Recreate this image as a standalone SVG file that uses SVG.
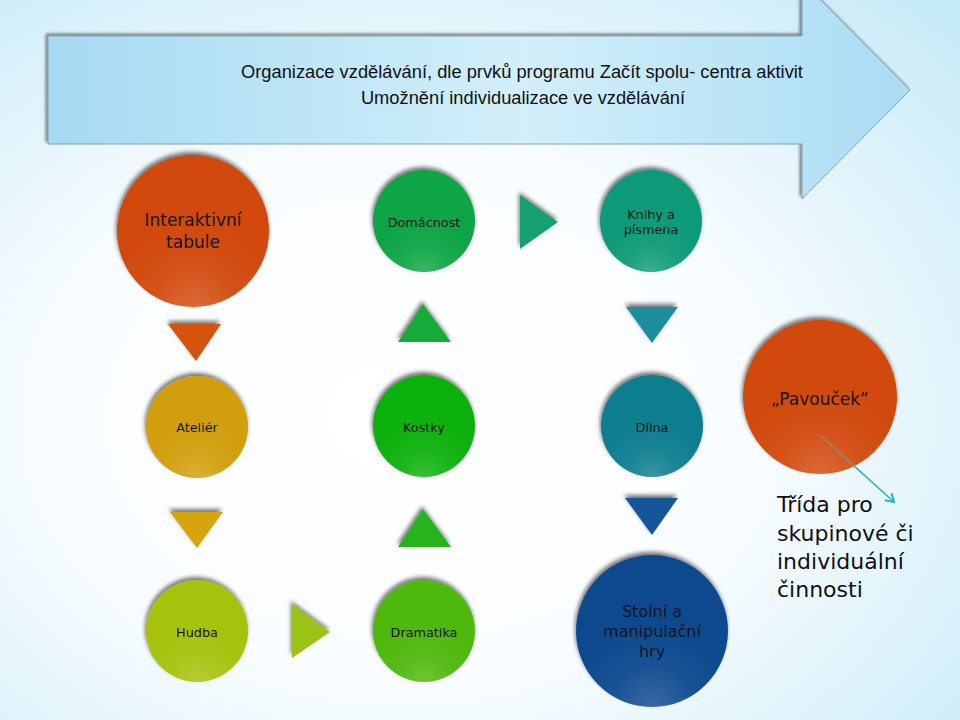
<svg xmlns="http://www.w3.org/2000/svg" width="960" height="720" viewBox="0 0 960 720">
<defs>
<radialGradient id="bg" cx="0.42" cy="0.58" r="0.8">
<stop offset="0" stop-color="#ffffff"/>
<stop offset="0.45" stop-color="#fafdff"/>
<stop offset="1" stop-color="#c6eaf7"/>
</radialGradient>
<linearGradient id="arrowFill" x1="0" y1="0" x2="1" y2="0">
<stop offset="0" stop-color="#a6daf2"/>
<stop offset="0.55" stop-color="#d2effa"/>
<stop offset="1" stop-color="#aadcf3"/>
</linearGradient>
<radialGradient id="hl" cx="0.5" cy="1" r="0.55">
<stop offset="0" stop-color="#ffffff" stop-opacity="0.18"/>
<stop offset="0.5" stop-color="#ffffff" stop-opacity="0.05"/>
<stop offset="1" stop-color="#ffffff" stop-opacity="0"/>
</radialGradient>
<filter id="sh" x="-20%" y="-20%" width="140%" height="140%">
<feGaussianBlur in="SourceAlpha" stdDeviation="2.2"/>
<feOffset dx="-1" dy="-3"/>
<feComponentTransfer><feFuncA type="linear" slope="0.55"/></feComponentTransfer>
<feMerge><feMergeNode/><feMergeNode in="SourceGraphic"/></feMerge>
</filter>
<filter id="ash" x="-5%" y="-10%" width="110%" height="120%">
<feGaussianBlur in="SourceAlpha" stdDeviation="1.5"/>
<feOffset dx="-2" dy="-2"/>
<feComponentTransfer><feFuncA type="linear" slope="0.5"/></feComponentTransfer>
<feMerge><feMergeNode/><feMergeNode in="SourceGraphic"/></feMerge>
</filter>
<marker id="open" viewBox="0 0 12 12" refX="10" refY="6" markerWidth="12" markerHeight="12" markerUnits="userSpaceOnUse" orient="auto">
<path d="M2,1 L10,6 L2,11" fill="none" stroke="#2bb3c9" stroke-width="2"/>
</marker>
<style>
.lbl{font-family:"DejaVu Sans","Noto Sans",sans-serif;fill:#151515;text-anchor:middle}
.sm{font-size:12.8px}
.lg{font-size:17px}
.hdr{font-family:"Liberation Sans",Arial,sans-serif;font-size:18.3px;fill:#111;text-anchor:middle}
.side{font-family:"DejaVu Sans","Noto Sans",sans-serif;font-size:22px;fill:#111}
.node{filter:url(#sh)}
.tri{filter:url(#sh)}
</style>
</defs>
<rect width="960" height="720" fill="url(#bg)"/>

<g id="header">
<polygon points="48,36 802,36 802,-19 910,90 802,199 802,144 48,144" fill="url(#arrowFill)" stroke="#7f929c" stroke-width="0.8" filter="url(#ash)"/>
<text class="hdr" x="522" y="78">Organizace vzdělávání, dle prvků programu Začít spolu- centra aktivit</text>
<text class="hdr" x="523" y="104">Umožnění individualizace ve vzdělávání</text>
</g>

<g id="interaktivni">
<circle class="node" cx="193" cy="231" r="76" fill="#d24a07"/>
<circle cx="193" cy="231" r="76" fill="url(#hl)"/>
<text class="lbl lg" x="193" y="226">Interaktivní</text>
<text class="lbl lg" x="193" y="248">tabule</text>
</g>

<g id="domacnost">
<circle class="node" cx="424" cy="221" r="51" fill="#07a544"/>
<circle cx="424" cy="221" r="51" fill="url(#hl)"/>
<text class="lbl sm" x="424" y="227">Domácnost</text>
</g>

<g id="knihy">
<circle class="node" cx="651" cy="221" r="51" fill="#0e9a78"/>
<circle cx="651" cy="221" r="51" fill="url(#hl)"/>
<text class="lbl sm" x="651" y="219">Knihy a</text>
<text class="lbl sm" x="651" y="234">písmena</text>
</g>

<g id="atelier">
<circle class="node" cx="197" cy="427" r="51" fill="#d19e08"/>
<circle cx="197" cy="427" r="51" fill="url(#hl)"/>
<text class="lbl sm" x="197" y="432">Ateliér</text>
</g>

<g id="kostky">
<circle class="node" cx="424" cy="426" r="51" fill="#0db10d"/>
<circle cx="424" cy="426" r="51" fill="url(#hl)"/>
<text class="lbl sm" x="424" y="432">Kostky</text>
</g>

<g id="dilna">
<circle class="node" cx="652" cy="426" r="51" fill="#117e90"/>
<circle cx="652" cy="426" r="51" fill="url(#hl)"/>
<text class="lbl sm" x="652" y="432">Dílna</text>
</g>

<g id="pavoucek">
<circle class="node" cx="820" cy="397" r="77" fill="#d24a07"/>
<circle cx="820" cy="397" r="77" fill="url(#hl)"/>
<text class="lbl lg" x="820" y="405">„Pavouček“</text>
</g>

<g id="hudba">
<circle class="node" cx="197" cy="631" r="51" fill="#a6c207"/>
<circle cx="197" cy="631" r="51" fill="url(#hl)"/>
<text class="lbl sm" x="197" y="637">Hudba</text>
</g>

<g id="dramatika">
<circle class="node" cx="424" cy="631" r="51" fill="#4fb809"/>
<circle cx="424" cy="631" r="51" fill="url(#hl)"/>
<text class="lbl sm" x="424" y="637">Dramatika</text>
</g>

<g id="stolni">
<circle class="node" cx="652" cy="631" r="76" fill="#104a8f"/>
<circle cx="652" cy="631" r="76" fill="url(#hl)"/>
<text class="lbl" style="font-size:16px;fill:#0c1626" x="652" y="617">Stolní a</text>
<text class="lbl" style="font-size:16px;fill:#0c1626" x="652" y="637">manipulační</text>
<text class="lbl" style="font-size:16px;fill:#0c1626" x="652" y="657">hry</text>
</g>

<g id="trida">
<text class="side" x="777" y="512">Třída pro</text>
<text class="side" x="777" y="541">skupinové či</text>
<text class="side" x="777" y="569">individuální</text>
<text class="side" x="777" y="597">činnosti</text>
</g>

<g id="connectors">
<polygon class="tri" points="168,324 221,324 196,361" fill="#d5520c"/>
<polygon class="tri" points="423,304 451,342 398,342" fill="#19ab3b"/>
<polygon class="tri" points="520,195 558,222 520,249" fill="#17a071"/>
<polygon class="tri" points="626,307 678,307 652,343" fill="#1c8e9e"/>
<polygon class="tri" points="170,512 223,512 197,548" fill="#d6a40a"/>
<polygon class="tri" points="423,509 451,547 398,547" fill="#27b31f"/>
<polygon class="tri" points="625,498 678,498 652,535" fill="#17549a"/>
<polygon class="tri" points="292,604 330,632 292,658" fill="#9bc312"/>
<path d="M820,435 L854,465.8" fill="none" stroke="#8f8c70" stroke-width="1.6"/>
<path d="M854,465.8 L894,502" fill="none" stroke="#2bb3c9" stroke-width="1.6" marker-end="url(#open)"/>
</g>
</svg>
